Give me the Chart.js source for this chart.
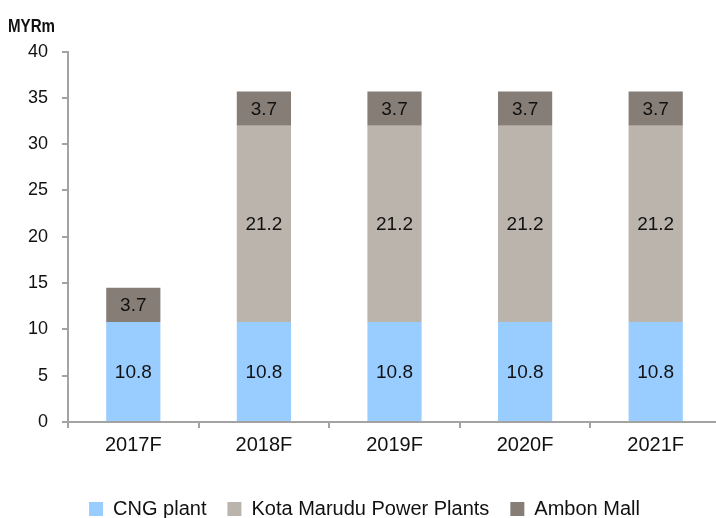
<!DOCTYPE html>
<html lang="en">
<head>
    <meta charset="UTF-8">
    <title>MYRm by year</title>
    <script src="https://cdn.jsdelivr.net/npm/chart.js"></script>
    <style>
        html, body { margin: 0; padding: 0; background: #fff; overflow: hidden; }
        .chart-wrap { width: 716px; height: 518px; overflow: hidden; }
    </style>
</head>
<body>
    <div class="chart-wrap">
        <canvas id="valueChart" width="752" height="529"></canvas>
    </div>

    <script>
        const years = ['2017F', '2018F', '2019F', '2020F', '2021F'];
        const cngPlant = [10.8, 10.8, 10.8, 10.8, 10.8];
        const kotaMarudu = [0, 21.2, 21.2, 21.2, 21.2];
        const ambonMall = [3.7, 3.7, 3.7, 3.7, 3.7];
        const yTicks = [0, 5, 10, 15, 20, 25, 30, 35, 40];
        const unitLabel = 'MYRm';

        const FONT = "'Liberation Sans', Arial, sans-serif";
        const AXIS_GREY = '#a3a3a3';

        // writes the value in the middle of each stacked segment
        const segmentLabels = {
            id: 'segmentLabels',
            afterDatasetsDraw(chart) {
                const ctx = chart.ctx;
                ctx.save();
                ctx.font = '19px ' + FONT;
                ctx.fillStyle = '#111';
                ctx.textAlign = 'center';
                ctx.textBaseline = 'middle';
                chart.data.datasets.forEach((ds, i) => {
                    chart.getDatasetMeta(i).data.forEach((bar, j) => {
                        const v = ds.data[j];
                        if (!v) return;
                        ctx.fillText(v.toFixed(1), bar.x, (bar.y + bar.base) / 2 + 1);
                    });
                });
                ctx.restore();
            }
        };

        // unit label above the y axis, narrow bold like the original
        const unitTitle = {
            id: 'unitTitle',
            afterDraw(chart) {
                const ctx = chart.ctx;
                ctx.save();
                ctx.font = '700 18px "Liberation Sans", Arial, sans-serif';
                ctx.fillStyle = '#111';
                ctx.textAlign = 'left';
                ctx.textBaseline = 'middle';
                ctx.translate(8, 27);
                ctx.scale(0.84, 1);
                ctx.fillText(unitLabel, 0, 0);
                ctx.restore();
            }
        };

        const ctx = document.getElementById('valueChart').getContext('2d');
        new Chart(ctx, {
            type: 'bar',
            data: {
                labels: years,
                datasets: [
                    { label: 'CNG plant', data: cngPlant, backgroundColor: '#99CCFF' },
                    { label: 'Kota Marudu Power Plants', data: kotaMarudu, backgroundColor: '#BAB4AD' },
                    { label: 'Ambon Mall', data: ambonMall, backgroundColor: '#877D77' }
                ]
            },
            options: {
                responsive: false,
                animation: false,
                layout: { padding: { left: 8, right: 31, top: 0, bottom: 0 } },
                datasets: {
                    bar: { categoryPercentage: 1, barPercentage: 0.415, borderWidth: 0 }
                },
                scales: {
                    x: {
                        stacked: true,
                        border: { color: AXIS_GREY, width: 2 },
                        grid: { drawOnChartArea: false, drawTicks: true, tickLength: 6, color: AXIS_GREY, lineWidth: 2 },
                        ticks: { color: '#111', padding: 5, font: { family: FONT, size: 20 } },
                        afterFit(scale) { scale.height += 16; }
                    },
                    y: {
                        stacked: true,
                        min: 0,
                        max: 40,
                        afterBuildTicks(scale) { scale.ticks = yTicks.map(v => ({ value: v })); },
                        afterFit(scale) { scale.width = 60; },
                        border: { color: AXIS_GREY, width: 2 },
                        grid: { drawOnChartArea: false, drawTicks: true, tickLength: 6, color: AXIS_GREY, lineWidth: 2 },
                        ticks: { color: '#111', padding: 14, font: { family: FONT, size: 18 } }
                    }
                },
                plugins: {
                    // only reserves the space; the text is drawn by unitTitle
                    title: {
                        display: true,
                        text: unitLabel,
                        align: 'start',
                        color: 'rgba(0,0,0,0)',
                        font: { family: FONT, size: 18, weight: 'bold' },
                        padding: { top: 16, bottom: 14 }
                    },
                    legend: {
                        position: 'bottom',
                        labels: {
                            boxWidth: 14,
                            boxHeight: 14,
                            padding: 21,
                            color: '#111',
                            font: { family: FONT, size: 20 }
                        }
                    },
                    tooltip: { enabled: false }
                }
            },
            plugins: [segmentLabels, unitTitle]
        });
    </script>
</body>
</html>
